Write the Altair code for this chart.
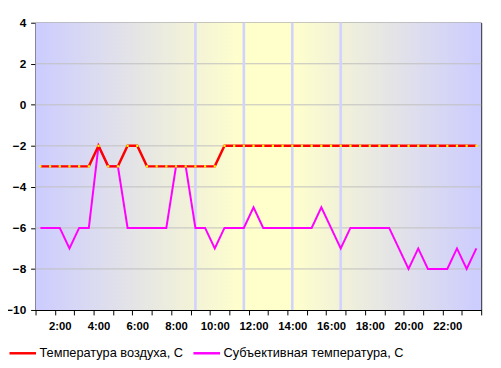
import altair as alt
import pandas as pd

times = ["1:00", "1:30", "2:00", "2:30", "3:00", "3:30", "4:00", "4:30", "5:00", "5:30",
         "6:00", "6:30", "7:00", "7:30", "8:00", "8:30", "9:00", "9:30", "10:00", "10:30",
         "11:00", "11:30", "12:00", "12:30", "13:00", "13:30", "14:00", "14:30", "15:00", "15:30",
         "16:00", "16:30", "17:00", "17:30", "18:00", "18:30", "19:00", "19:30", "20:00", "20:30",
         "21:00", "21:30", "22:00", "22:30", "23:00", "23:30"]
air_temp = [-3, -3, -3, -3, -3, -3, -2, -3, -3, -2,
            -2, -3, -3, -3, -3, -3, -3, -3, -3, -2,
            -2, -2, -2, -2, -2, -2, -2, -2, -2, -2,
            -2, -2, -2, -2, -2, -2, -2, -2, -2, -2,
            -2, -2, -2, -2, -2, -2]
feels_temp = [-6, -6, -6, -7, -6, -6, -2, -3, -3, -6,
              -6, -6, -6, -6, -3, -3, -6, -6, -7, -6,
              -6, -6, -5, -6, -6, -6, -6, -6, -6, -5,
              -6, -7, -6, -6, -6, -6, -6, -7, -8, -7,
              -8, -8, -8, -7, -8, -7]
series_names = ["Температура воздуха, С", "Субъективная температура, С"]
series_colors = ["#FF0000", "#FF00FF"]
y_ticks = [-10, -8, -6, -4, -2, 0, 2, 4]
grid_levels = [-8, -6, -4, -2, 0, 2]
marker_hours = [9.0, 11.5, 14.0, 16.5]
x_tick_hours = [0.75 + k for k in range(24)]

W, H = 453, 292
FONT = "Liberation Sans"


def to_hours(s):
    h, m = s.split(":")
    return int(h) + int(m) / 60.0


rows = []
for t, a, f in zip(times, air_temp, feels_temp):
    rows.append({"hour": to_hours(t), "time": t, "series": series_names[0], "value": a})
    rows.append({"hour": to_hours(t), "time": t, "series": series_names[1], "value": f})
df = pd.DataFrame(rows)

x_scale = alt.Scale(domain=[0.75, 23.75], nice=False, zero=False)
y_scale = alt.Scale(domain=[-10, 4], nice=False, zero=False)
color_scale = alt.Scale(domain=series_names, range=series_colors)

x_axis = alt.Axis(
    values=x_tick_hours,
    labelExpr="((datum.value + 0.25) % 2 == 0 && datum.value < 23) ? format(datum.value + 0.25, 'd') + ':00' : ''",
    labelOffset=4.92, labelOverlap=False, labelFlush=False, labelBound=False,
    tickSize=5, tickColor="black", domainColor="black", grid=False, title=None,
    labelFont=FONT, labelFontWeight="bold", labelFontSize=11.5, labelColor="black",
    labelPadding=6,
)
y_axis = alt.Axis(
    values=y_ticks, tickSize=5, tickColor="black", domainColor="black", grid=False,
    title=None, labelFont=FONT, labelFontWeight="bold", labelFontSize=12,
    labelColor="black", labelPadding=5, labelFlush=False,
)

X = alt.X("hour:Q", scale=x_scale, axis=x_axis)
Y_val = alt.Y("value:Q", scale=y_scale, axis=y_axis)

gradient = alt.LinearGradient(
    gradient="linear", x1=0, x2=1, y1=0, y2=0,
    stops=[
        alt.GradientStop(color="#CCCCFF", offset=0),
        alt.GradientStop(color="#FFFFCC", offset=0.466),
        alt.GradientStop(color="#FFFFCC", offset=0.574),
        alt.GradientStop(color="#CCCCFF", offset=1),
    ],
)

bg = alt.Chart(pd.DataFrame({"a": [0]})).mark_rect(fill=gradient).encode(
    x=alt.value(0), x2=alt.value(W), y=alt.value(0), y2=alt.value(H)
)

grid = alt.Chart(pd.DataFrame({"level": grid_levels})).mark_rule(
    color="#C0C0C0", strokeWidth=1
).encode(y=alt.Y("level:Q", scale=y_scale, axis=y_axis))

vlines = alt.Chart(pd.DataFrame({"hour": marker_hours})).mark_rule(
    color="#D2D2FF", strokeWidth=2.7
).encode(x=X)

legend = alt.Legend(
    title=None, orient="none", direction="horizontal", legendX=-28, legendY=321,
    symbolType="stroke", symbolSize=729, symbolStrokeWidth=2.5,
    labelFont=FONT, labelFontSize=13, labelColor="black", labelOffset=2,
    labelLimit=0, columnPadding=4, padding=0,
)

base = alt.Chart(df).encode(
    x=X,
    y=Y_val,
    color=alt.Color("series:N", scale=color_scale, legend=legend),
)

feels_line = base.transform_filter(alt.datum.series == series_names[1]).mark_line(strokeWidth=2)
air_line = base.transform_filter(alt.datum.series == series_names[0]).mark_line(strokeWidth=2.5)
air_pts = alt.Chart(df).transform_filter(alt.datum.series == series_names[0]).mark_square(
    size=5, fill="#FFFF00", opacity=1, strokeWidth=0
).encode(x=X, y=Y_val)

chart = alt.layer(bg, grid, vlines, feels_line, air_line, air_pts).properties(
    width=W, height=H,
    autosize=alt.AutoSizeParams(type="none"),
    padding={"left": 28, "top": 12, "right": 12, "bottom": 56},
    background="white",
).configure_view(stroke="black", strokeWidth=1)

chart.save("out.html", embed_options={"renderer": "svg", "actions": False})
